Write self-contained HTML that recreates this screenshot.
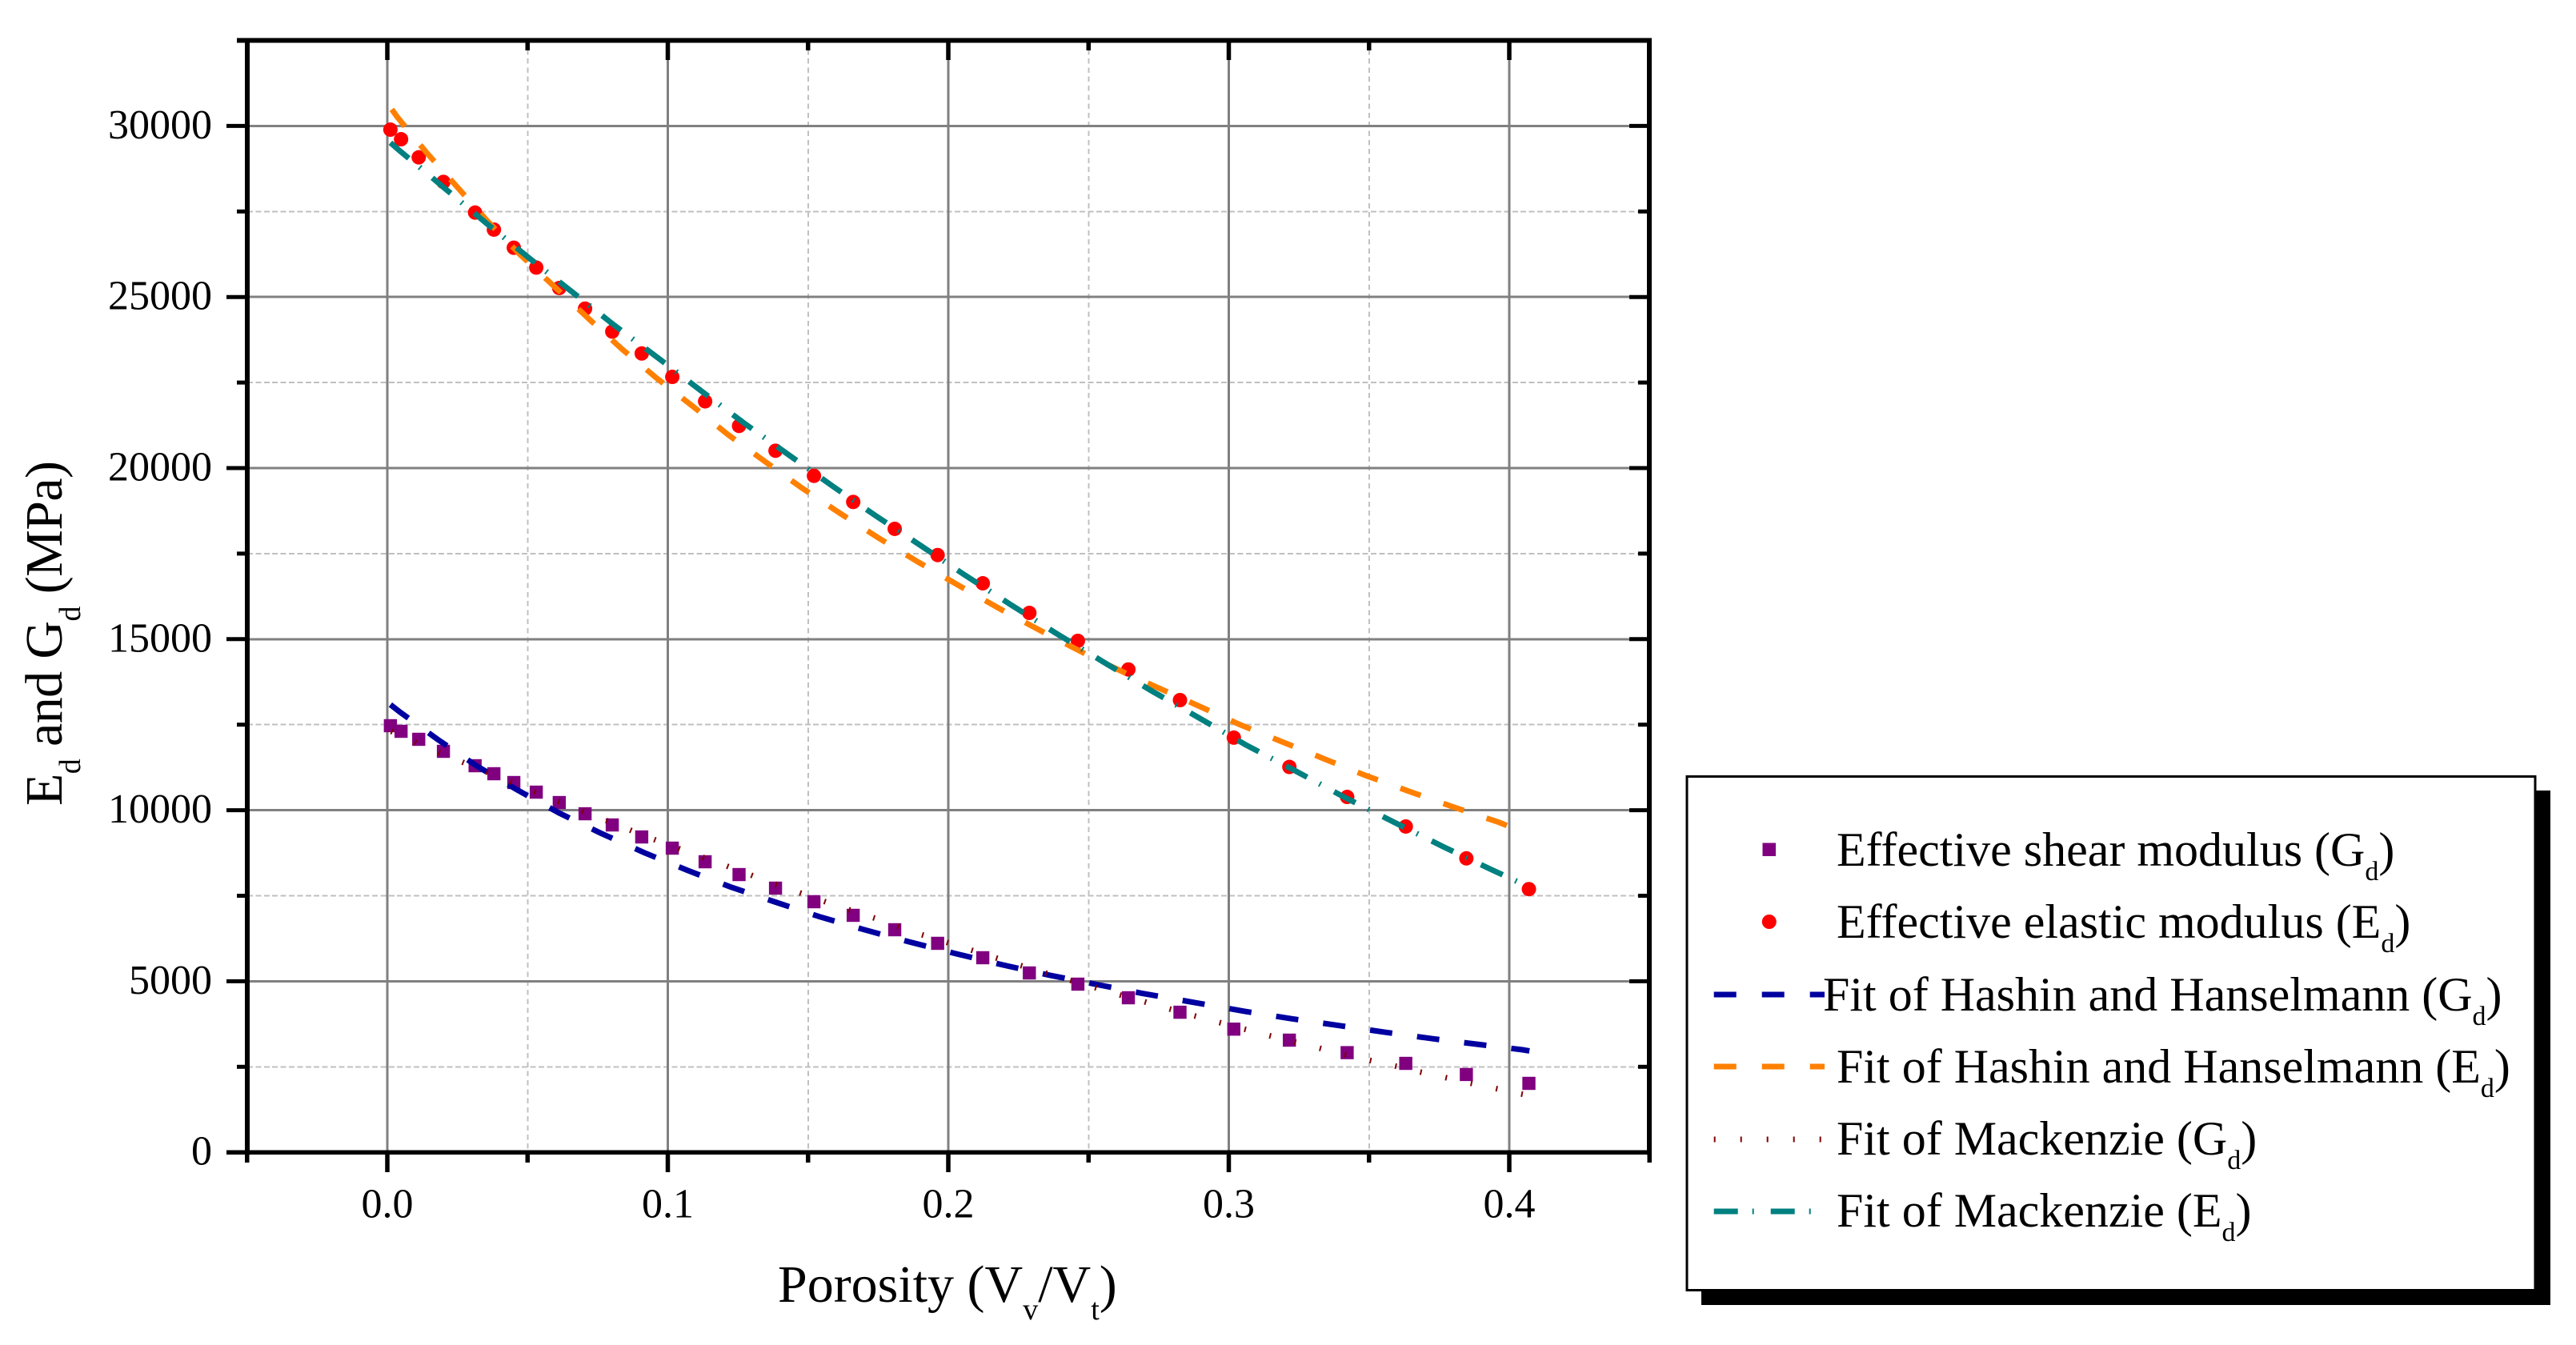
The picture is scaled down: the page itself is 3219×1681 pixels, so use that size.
<!DOCTYPE html>
<html lang="en">
<head>
<meta charset="utf-8">
<title>Effective moduli versus porosity</title>
<style>
html,body{margin:0;padding:0;background:#fff;}
svg{display:block;}
text{font-family:"Liberation Serif","Times New Roman",serif;fill:#000;}
.tick{font-size:52px;}
.title{font-size:66px;}
.sub-t{font-size:38px;}
.leg{font-size:60px;}
.sub-l{font-size:34px;}
#grid line{shape-rendering:crispEdges;}
</style>
</head>
<body>
<svg id="chart" xmlns="http://www.w3.org/2000/svg" width="3219" height="1681" viewBox="0 0 3219 1681">
  <rect x="0" y="0" width="3219" height="1681" fill="#fff"/>
  <g id="grid"></g>
  <g id="series"></g>
  <g id="axes"></g>

  <text class="title" x="972" y="1627">Porosity (V<tspan class="sub-t" dy="22">v</tspan><tspan dy="-22">/V</tspan><tspan class="sub-t" dy="22">t</tspan><tspan dy="-22">)</tspan></text>
  <text class="title" style="letter-spacing:-0.6px" transform="translate(77,1007) rotate(-90)" x="0" y="0">E<tspan class="sub-t" dy="23">d</tspan><tspan dy="-23"> and G</tspan><tspan class="sub-t" dy="23">d</tspan><tspan dy="-23"> (MPa)</tspan></text>

  <g>
    <rect x="2126" y="988" width="1061" height="643" fill="#000"/>
    <rect x="2108" y="970.5" width="1060" height="642" fill="#fff" stroke="#000" stroke-width="3"/>

    <rect x="2202.5" y="1053.5" width="16.5" height="16.5" fill="#800080"/>
    <text class="leg" x="2295" y="1082">Effective shear modulus (G<tspan class="sub-l" dy="18">d</tspan><tspan dy="-18">)</tspan></text>

    <circle cx="2210.8" cy="1152" r="9" fill="#ff0000"/>
    <text class="leg" x="2295" y="1172">Effective elastic modulus (E<tspan class="sub-l" dy="18">d</tspan><tspan dy="-18">)</tspan></text>

    <line x1="2141.7" y1="1243" x2="2280" y2="1243" stroke="#0000a0" stroke-width="7" stroke-dasharray="28 32"/>
    <text class="leg" x="2278" y="1263">Fit of Hashin and Hanselmann (G<tspan class="sub-l" dy="18">d</tspan><tspan dy="-18">)</tspan></text>

    <line x1="2141.7" y1="1333" x2="2280" y2="1333" stroke="#ff8000" stroke-width="7" stroke-dasharray="28 32"/>
    <text class="leg" x="2295" y="1353">Fit of Hashin and Hanselmann (E<tspan class="sub-l" dy="18">d</tspan><tspan dy="-18">)</tspan></text>

    <line x1="2141.7" y1="1424" x2="2276" y2="1424" stroke="#800000" stroke-width="7" stroke-dasharray="2 31"/>
    <text class="leg" x="2295" y="1443">Fit of Mackenzie (G<tspan class="sub-l" dy="18">d</tspan><tspan dy="-18">)</tspan></text>

    <line x1="2141.7" y1="1514" x2="2264" y2="1514" stroke="#008080" stroke-width="7" stroke-dasharray="30 18 2 21"/>
    <text class="leg" x="2295" y="1533">Fit of Mackenzie (E<tspan class="sub-l" dy="18">d</tspan><tspan dy="-18">)</tspan></text>
  </g>
</svg>

<script>
// ----- Data -----
const xMajorTicks = ["0.0", "0.1", "0.2", "0.3", "0.4"];
const xMinorTicks = [-0.05, 0.05, 0.15, 0.25, 0.35, 0.45];
const yMajorTicks = [0, 5000, 10000, 15000, 20000, 25000, 30000];
const yMinorTicks = [2500, 7500, 12500, 17500, 22500, 27500, 32500];

const porosity = [0.0011,0.0049,0.0112,0.02,0.0313,0.038,0.0451,0.0531,0.0613,0.0705,0.0802,0.0907,0.1016,0.1133,0.1254,0.1384,0.1521,0.1661,0.1809,0.1962,0.2123,0.2289,0.2462,0.2642,0.2826,0.3018,0.3216,0.3422,0.3631,0.3847,0.407];
const shearModulus = [12470,12306,12072,11721,11300,11066,10809,10528,10224,9896,9569,9218,8891,8493,8119,7722,7325,6927,6506,6109,5688,5243,4916,4518,4095,3601,3279,2914,2600,2275,2016];
const elasticModulus = [29892,29611,29082,28364,27468,26970,26440,25860,25262,24660,23990,23350,22665,21950,21232,20507,19773,19010,18223,17458,16632,15767,14949,14113,13218,12121,11265,10388,9523,8592,7694];

const hashinGdX = [0.0011,0.0043,0.0179,0.0316,0.0462,0.0612,0.0761,0.0916,0.1072,0.1222,0.138,0.1541,0.1698,0.1862,0.2028,0.2195,0.2359,0.2523,0.2688,0.2873,0.3054,0.3223,0.3392,0.3559,0.3727,0.3892,0.4047,0.4072];
const hashinGdY = [13085,12882,12072,11307,10599,9921,9329,8758,8237,7762,7325,6887,6513,6148,5804,5477,5180,4916,4651,4385,4125,3905,3707,3508,3321,3152,2998,2965];

const hashinEdX = [0.0016,0.0035,0.0139,0.0249,0.0358,0.0472,0.0593,0.0718,0.0838,0.0963,0.109,0.1215,0.1347,0.1476,0.1613,0.1753,0.1894,0.2045,0.2195,0.2344,0.2493,0.2642,0.2840,0.3038,0.3191,0.3342,0.3488,0.3641,0.38,0.3963,0.4];
const hashinEdY = [30483,30265,29229,28215,27210,26250,25325,24365,23468,22611,21800,20975,20190,19430,18684,17950,17247,16532,15836,15182,14550,13966,13241,12507,11997,11494,11015,10556,10096,9647,9523];

const mackenzieGdX = [0.0014,0.0094,0.018,0.0259,0.0339,0.0425,0.0504,0.0588,0.0672,0.0756,0.0842,0.0924,0.1009,0.1097,0.1184,0.1269,0.1353,0.1431,0.152,0.1605,0.1689,0.178,0.1865,0.1951,0.2043,0.2128,0.222,0.2311,0.2405,0.2491,0.2584,0.267,0.2761,0.2853,0.2945,0.3036,0.3128,0.322,0.3312,0.3403,0.3495,0.3586,0.3676,0.3768,0.386,0.395,0.4045,0.4065];
const mackenzieGdY = [12306,12010,11698,11433,11167,10880,10606,10318,10053,9780,9500,9226,8969,8704,8447,8190,7925,7699,7441,7200,6974,6733,6460,6250,6015,5790,5554,5329,5096,4899,4658,4471,4254,4044,3842,3643,3445,3258,3070,2872,2703,2537,2360,2194,2025,1869,1702,1670];

const mackenzieEdX = [0.0011,0.0046,0.0125,0.0201,0.0354,0.0505,0.0656,0.081,0.0969,0.1118,0.127,0.1429,0.1588,0.1743,0.1895,0.2056,0.2221,0.2382,0.255,0.2724,0.289,0.306,0.3235,0.3415,0.359,0.3766,0.3935,0.4067];
const mackenzieEdY = [29510,29262,28730,28201,27149,26143,25168,24170,23196,22261,21325,20398,19469,18596,17771,16890,16016,15182,14347,13491,12717,11912,11160,10367,9647,8926,8269,7769];

// ----- Axis functions -----
const SVG_NS = "http://www.w3.org/2000/svg";
function xScale(v) { return 484 + v * 3505; }
function yScale(v) { return 1440.2 - v * 213.8 / 5000; }

function make(tag, attrs, parent) {
  const el = document.createElementNS(SVG_NS, tag);
  for (const k in attrs) el.setAttribute(k, attrs[k]);
  parent.appendChild(el);
  return el;
}

const gridG = document.getElementById("grid");
const seriesG = document.getElementById("series");
const axesG = document.getElementById("axes");

const LEFT = 309, RIGHT = 2061, TOP = yScale(32500), BOTTOM = yScale(0);

// ----- Grid -----
yMinorTicks.slice(0, -1).forEach(function (v) {
  const el = make("line", {x1: LEFT, x2: RIGHT, y1: yScale(v), y2: yScale(v), stroke: "#c0c0c0", "stroke-width": 2, "stroke-dasharray": "7 3.4"}, gridG);
  
  
});
xMinorTicks.slice(1, -1).forEach(function (v) {
  const el = make("line", {x1: xScale(v), x2: xScale(v), y1: TOP, y2: BOTTOM, stroke: "#c0c0c0", "stroke-width": 2, "stroke-dasharray": "6.5 4.8"}, gridG);
  
  
});
yMajorTicks.slice(1).forEach(function (v) {
  const el = make("line", {x1: LEFT, x2: RIGHT, y1: yScale(v), y2: yScale(v), stroke: "#808080", "stroke-width": 3}, gridG);
  
  
});
xMajorTicks.forEach(function (label) {
  const v = parseFloat(label);
  const el = make("line", {x1: xScale(v), x2: xScale(v), y1: TOP, y2: BOTTOM, stroke: "#808080", "stroke-width": 3}, gridG);
  
  
});

// ----- Markers -----
porosity.forEach(function (p, i) {
  const el = make("rect", {x: xScale(p) - 8.2, y: yScale(shearModulus[i]) - 8.2, width: 16.4, height: 16.4, fill: "#800080"}, seriesG);
  
  
});
porosity.forEach(function (p, i) {
  const el = make("circle", {cx: xScale(p), cy: yScale(elasticModulus[i]), r: 9, fill: "#ff0000"}, seriesG);
  
  
});

// ----- Fit lines -----
function linePoints(xs, ys) {
  return xs.map(function (x, i) { return xScale(x).toFixed(1) + "," + yScale(ys[i]).toFixed(1); }).join(" ");
}
const fitHashinG = make("polyline", {points: linePoints(hashinGdX, hashinGdY), fill: "none", stroke: "#0000a0", "stroke-width": 7, "stroke-dasharray": "28 31.3"}, seriesG);


const fitHashinE = make("polyline", {points: linePoints(hashinEdX, hashinEdY), fill: "none", stroke: "#ff8000", "stroke-width": 7, "stroke-dasharray": "27 30"}, seriesG);


const fitMackenzieG = make("polyline", {points: linePoints(mackenzieGdX, mackenzieGdY), fill: "none", stroke: "#800000", "stroke-width": 7, "stroke-dasharray": "2 30.3"}, seriesG);


const fitMackenzieE = make("polyline", {points: linePoints(mackenzieEdX, mackenzieEdY), fill: "none", stroke: "#008080", "stroke-width": 7, "stroke-dasharray": "30 17.3 2 19"}, seriesG);



// ----- Axes frame -----
const leftSpine = make("line", {x1: LEFT, x2: LEFT, y1: TOP, y2: BOTTOM + 3, stroke: "#000", "stroke-width": 6}, axesG);


const rightSpine = make("line", {x1: RIGHT, x2: RIGHT, y1: TOP, y2: BOTTOM + 3, stroke: "#000", "stroke-width": 6}, axesG);


const topSpine = make("line", {x1: 296, x2: RIGHT + 3, y1: TOP, y2: TOP, stroke: "#000", "stroke-width": 6}, axesG);


const bottomSpine = make("line", {x1: 283, x2: RIGHT + 3, y1: BOTTOM, y2: BOTTOM, stroke: "#000", "stroke-width": 5.5}, axesG);



// ----- Y ticks and labels -----
yMajorTicks.forEach(function (v) {
  const y = yScale(v);
  const outer = make("line", {x1: 283, x2: LEFT, y1: y, y2: y, stroke: "#000", "stroke-width": 5}, axesG);
  
  
  const inner = make("line", {x1: RIGHT - 25, x2: RIGHT, y1: y, y2: y, stroke: "#000", "stroke-width": 5}, axesG);
  
  
  const label = make("text", {x: 265, y: y + 15.5, "text-anchor": "end", "class": "tick"}, axesG);
  label.textContent = String(v);
  
  
});
yMinorTicks.forEach(function (v) {
  const y = yScale(v);
  const outer = make("line", {x1: 296, x2: LEFT, y1: y, y2: y, stroke: "#000", "stroke-width": 5}, axesG);
  
  
  const inner = make("line", {x1: RIGHT - 14, x2: RIGHT, y1: y, y2: y, stroke: "#000", "stroke-width": 5}, axesG);
  
  
});

// ----- X ticks and labels -----
xMajorTicks.forEach(function (text) {
  const x = xScale(parseFloat(text));
  const lower = make("line", {x1: x, x2: x, y1: BOTTOM, y2: 1465, stroke: "#000", "stroke-width": 5.5}, axesG);
  
  
  const upper = make("line", {x1: x, x2: x, y1: TOP, y2: 75, stroke: "#000", "stroke-width": 5.5}, axesG);
  
  
  const label = make("text", {x: x, y: 1521.5, "text-anchor": "middle", "class": "tick"}, axesG);
  label.textContent = text;
  
  
});
xMinorTicks.forEach(function (v) {
  const x = xScale(v);
  const lower = make("line", {x1: x, x2: x, y1: BOTTOM, y2: 1453, stroke: "#000", "stroke-width": 5.5}, axesG);
  
  
  const upper = make("line", {x1: x, x2: x, y1: TOP, y2: 63, stroke: "#000", "stroke-width": 5.5}, axesG);
  
  
});
</script>
</body>
</html>
